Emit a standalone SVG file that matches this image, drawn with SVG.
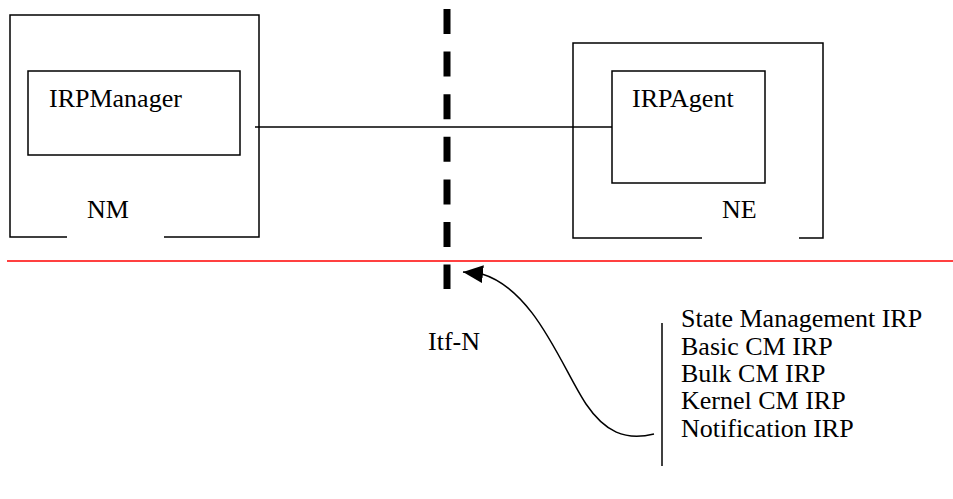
<svg xmlns="http://www.w3.org/2000/svg" width="953" height="499" viewBox="0 0 953 499">
<style>
.ln{fill:none;stroke:#000;stroke-width:1.5}
.t{font-family:"Liberation Serif","Times New Roman","DejaVu Serif",serif;font-size:26px;fill:#000}
</style>
<defs>
<marker id="ah" markerWidth="20" markerHeight="18" refX="20" refY="9" orient="auto" markerUnits="userSpaceOnUse">
<path d="M0,0 L20,9 L0,18 Z" fill="#000"/>
</marker>
</defs>
<rect width="953" height="499" fill="#fff"/>
<g id="nm">
<path class="ln" d="M67,237 H10 V15 H259 V237 H164"/>
<text class="t" x="87" y="218">NM</text>
</g>
<g id="irpmanager">
<rect class="ln" x="28" y="71" width="212" height="84"/>
<text class="t" x="49" y="107">IRPManager</text>
</g>
<g id="ne">
<path class="ln" d="M702,238 H573 V43 H823 V238 H799"/>
<text class="t" x="722" y="218">NE</text>
</g>
<g id="irpagent">
<rect class="ln" x="612" y="71" width="153" height="112"/>
<text class="t" x="632" y="107">IRPAgent</text>
</g>
<g id="itfn">
<line x1="447" y1="9" x2="447" y2="289" stroke="#000" stroke-width="7" stroke-dasharray="25 17.6"/>
<text class="t" x="428" y="350">Itf-N</text>
</g>
<line id="divider" x1="7" y1="261" x2="953" y2="261" stroke="#ff0000" stroke-width="1.5"/>
<g id="irplist">
<line class="ln" x1="662" y1="323" x2="662" y2="466"/>
<text class="t" x="681" y="327">State Management IRP</text>
<text class="t" x="681" y="354.5">Basic CM IRP</text>
<text class="t" x="681" y="382">Bulk CM IRP</text>
<text class="t" x="681" y="409">Kernel CM IRP</text>
<text class="t" x="681" y="436.5">Notification IRP</text>
</g>
<g id="connectors">
<line class="ln" x1="255" y1="127" x2="612" y2="127"/>
<path class="ln" d="M654,434 C625,441 605,432 586,404 C562,368 535,290 482,274 L463,272" marker-end="url(#ah)"/>
</g>
</svg>
